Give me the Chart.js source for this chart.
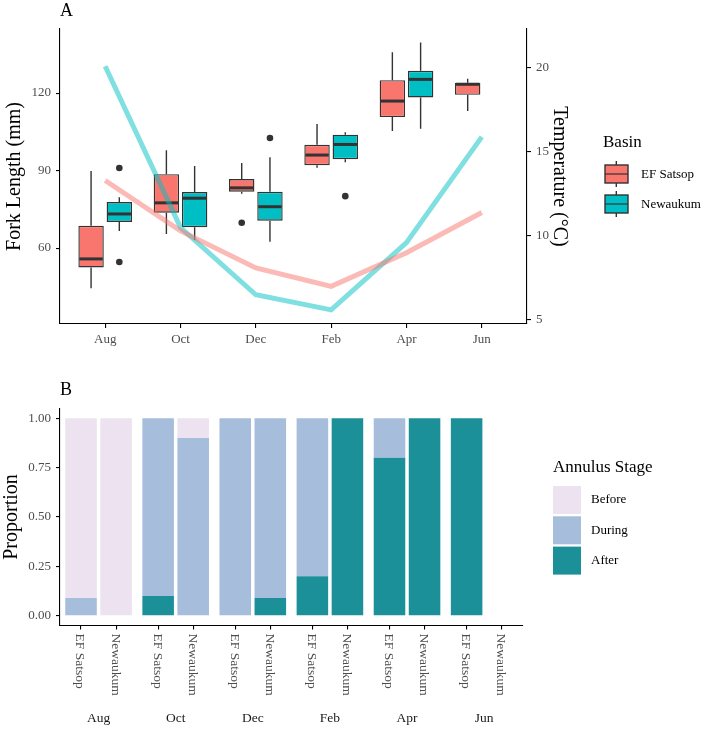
<!DOCTYPE html>
<html>
<head>
<meta charset="utf-8">
<script src="https://cdn.jsdelivr.net/npm/chart.js@4.4.1/dist/chart.umd.min.js"></script>
<style>
  body { margin: 0; background: #fff; }
  #wrap { position: relative; width: 706px; height: 729px; }
  canvas { position: absolute; left: 0; }
  #top { top: 0; }
  #bottom { top: 370px; }
</style>
</head>
<body>
<div id="wrap">
  <canvas id="top" width="706" height="360"></canvas>
  <canvas id="bottom" width="706" height="359"></canvas>
</div>
<script>
// ---- panel A data ----
var months = ['Aug', 'Oct', 'Dec', 'Feb', 'Apr', 'Jun'];
var basins = ['EF Satsop', 'Newaukum'];

// box stats (fork length, mm), one value per month
var efLow = [44.4, 65.4, 81.0, 91.1, 105.3, 113.1];
var efQ1 = [52.5, 73.7, 81.8, 92.1, 110.7, 119.3];
var efMed = [55.8, 77.5, 83.3, 96.0, 116.9, 123.4];
var efQ3 = [68.6, 88.6, 86.7, 100.0, 125.0, 124.0];
var efHigh = [89.8, 97.9, 92.9, 108.0, 135.8, 125.5];

var nwLow = [66.6, 63.1, 62.4, 93.2, 106.2, null];
var nwQ1 = [70.1, 68.1, 70.6, 94.4, 118.3, null];
var nwMed = [73.2, 79.3, 76.0, 100.1, 125.3, null];
var nwQ3 = [77.8, 81.7, 81.8, 103.9, 128.6, null];
var nwHigh = [79.7, 91.8, 95.2, 104.8, 139.6, null];

// outliers
var outMonth = ['Aug', 'Aug', 'Dec', 'Dec', 'Feb'];
var outBasin = ['Newaukum', 'Newaukum', 'EF Satsop', 'Newaukum', 'Newaukum'];
var outValue = [91.0, 54.6, 69.8, 102.6, 80.1];

// mean temperature (°C)
var tempEF = [13.3, 10.3, 8.1, 7.0, 9.0, 11.4];
var tempNW = [20.1, 10.5, 6.5, 5.6, 9.6, 15.9];

var lengthTicks = [60, 90, 120];
var tempTicks = [5, 10, 15, 20];

// ---- panel B data ----
var barMonth = ['Aug', 'Aug', 'Oct', 'Oct', 'Dec', 'Dec', 'Feb', 'Feb', 'Apr', 'Apr', 'Jun', 'Jun'];
var barBasin = ['EF Satsop', 'Newaukum', 'EF Satsop', 'Newaukum', 'EF Satsop', 'Newaukum',
                'EF Satsop', 'Newaukum', 'EF Satsop', 'Newaukum', 'EF Satsop', 'Newaukum'];
var stages = ['Before', 'During', 'After'];
var propBefore = [0.91, 1.00, 0, 0.10, 0, 0, 0, 0, 0, 0, 0, 0];
var propDuring = [0.09, 0, 0.90, 0.90, 1.00, 0.91, 0.80, 0, 0.20, 0, 0, 0];
var propAfter = [0, 0, 0.10, 0, 0, 0.09, 0.20, 1.00, 0.80, 1.00, 1.00, 0];
var propTicks = [0, 0.25, 0.5, 0.75, 1];
var propTickLabels = ['0.00', '0.25', '0.50', '0.75', '1.00'];

Chart.defaults.font.family = "'Liberation Serif', 'DejaVu Serif', serif";
Chart.defaults.color = '#4D4D4D';

var FONT = "'Liberation Serif', serif";
var boxFill = { 'EF Satsop': '#F8766D', 'Newaukum': '#00BFC4' };
var stageFill = { 'Before': '#ECE2F0', 'During': '#A6BDDB', 'After': '#1C9099' };
var catPct = 0.75;

function axisStyle(extra) {
  var base = {
    grid: { drawOnChartArea: false, color: '#000', tickLength: 4, lineWidth: 1.1, offset: false },
    border: { color: '#000', width: 1.1 },
    ticks: { color: '#4D4D4D', font: { size: 13 } }
  };
  return Object.assign(base, extra);
}

function boxData(q1, med, q3, lo, hi) {
  var out = [];
  months.forEach(function (m, i) {
    if (q1[i] == null) return;
    out.push({ x: i + 1, y: [q1[i], q3[i]], med: med[i], lo: lo[i], hi: hi[i] });
  });
  return out;
}

var outliers = outValue.map(function (v, i) {
  var shift = outBasin[i] === basins[0] ? -catPct / 4 : catPct / 4;
  return { x: months.indexOf(outMonth[i]) + 1 + shift, y: v };
});

var whiskers = {
  id: 'whiskers',
  afterDatasetDraw: function (chart, args) {
    var ds = chart.data.datasets[args.index];
    if (!ds.isBox) return;
    var ctx = chart.ctx, ys = chart.scales.y;
    ctx.save();
    ctx.strokeStyle = '#333333';
    args.meta.data.forEach(function (bar, i) {
      var d = ds.data[i];
      var p = bar.getProps(['x', 'y', 'base', 'width'], true);
      var top = Math.min(p.y, p.base), bot = Math.max(p.y, p.base);
      ctx.lineWidth = 1.4;
      ctx.beginPath();
      ctx.moveTo(p.x, top); ctx.lineTo(p.x, ys.getPixelForValue(d.hi));
      ctx.moveTo(p.x, bot); ctx.lineTo(p.x, ys.getPixelForValue(d.lo));
      ctx.stroke();
      var ym = ys.getPixelForValue(d.med);
      ctx.lineWidth = 3;
      ctx.beginPath();
      ctx.moveTo(p.x - p.width / 2 + 1, ym); ctx.lineTo(p.x + p.width / 2 - 1, ym);
      ctx.stroke();
    });
    ctx.restore();
  }
};

var basinLegend = {
  id: 'basinLegend',
  afterDraw: function (chart) {
    var ctx = chart.ctx;
    ctx.save();
    ctx.fillStyle = '#000';
    ctx.textBaseline = 'middle';
    ctx.textAlign = 'left';
    ctx.font = '18px ' + FONT;
    ctx.fillText('A', 60, 11);
    ctx.font = '17px ' + FONT;
    ctx.fillText('Basin', 603, 143);
    ctx.font = '13px ' + FONT;
    basins.forEach(function (b, i) {
      var cy = 174 + i * 30;
      ctx.strokeStyle = '#333333';
      ctx.lineWidth = 1.4;
      ctx.beginPath();
      ctx.moveTo(616.3, cy - 13); ctx.lineTo(616.3, cy + 13);
      ctx.stroke();
      ctx.fillStyle = boxFill[b];
      ctx.fillRect(605, cy - 9, 23, 18);
      ctx.strokeRect(605, cy - 9, 23, 18);
      ctx.lineWidth = 1.2;
      ctx.beginPath();
      ctx.moveTo(605, cy); ctx.lineTo(628, cy);
      ctx.stroke();
      ctx.fillStyle = '#000';
      ctx.fillText(b, 641, cy + 1);
    });
    ctx.restore();
  }
};

new Chart(document.getElementById('top'), {
  type: 'bar',
  data: {
    datasets: [
      { type: 'line', label: 'EF Satsop temp', yAxisID: 'y2', order: 0,
        data: tempEF.map(function (t, i) { return { x: i + 1, y: t }; }),
        borderColor: 'rgba(248,118,109,0.5)', borderWidth: 5, pointRadius: 0, tension: 0 },
      { type: 'line', label: 'Newaukum temp', yAxisID: 'y2', order: 0,
        data: tempNW.map(function (t, i) { return { x: i + 1, y: t }; }),
        borderColor: 'rgba(0,191,196,0.5)', borderWidth: 5, pointRadius: 0, tension: 0 },
      { type: 'scatter', label: 'outliers', order: 1, data: outliers,
        pointRadius: 3.3, backgroundColor: '#333333', borderWidth: 0 },
      { label: basins[0], isBox: true, order: 2,
        data: boxData(efQ1, efMed, efQ3, efLow, efHigh),
        backgroundColor: boxFill[basins[0]], borderColor: '#333333', borderWidth: 1.4,
        borderSkipped: false, categoryPercentage: catPct, barPercentage: 0.9 },
      { label: basins[1], isBox: true, order: 2,
        data: boxData(nwQ1, nwMed, nwQ3, nwLow, nwHigh),
        backgroundColor: boxFill[basins[1]], borderColor: '#333333', borderWidth: 1.4,
        borderSkipped: false, categoryPercentage: catPct, barPercentage: 0.9 }
    ]
  },
  options: {
    responsive: false,
    animation: false,
    devicePixelRatio: 1,
    events: [],
    layout: { padding: { left: 0, right: 134, top: 29, bottom: 6 } },
    plugins: { legend: { display: false }, tooltip: { enabled: false } },
    scales: {
      x: axisStyle({
        type: 'linear', offset: false, min: 0.4, max: 6.6,
        afterBuildTicks: function (s) { s.ticks = months.map(function (m, i) { return { value: i + 1 }; }); },
        ticks: { color: '#4D4D4D', font: { size: 13 }, padding: 4, maxRotation: 0,
                 callback: function (v) { return months[Math.round(v) - 1]; } },
        afterFit: function (s) { s.height = 30; }
      }),
      y: axisStyle({
        type: 'linear', position: 'left', min: 30.6, max: 144.8,
        afterBuildTicks: function (s) { s.ticks = lengthTicks.map(function (v) { return { value: v }; }); },
        ticks: { color: '#4D4D4D', font: { size: 13 }, padding: 5 },
        title: { display: true, text: 'Fork Length (mm)', color: '#000', font: { size: 20 }, padding: { top: 3, bottom: 0 } },
        afterFit: function (s) { s.width = 60; }
      }),
      y2: axisStyle({
        type: 'linear', position: 'right', min: 4.76, max: 22.32,
        afterBuildTicks: function (s) { s.ticks = tempTicks.map(function (v) { return { value: v }; }); },
        ticks: { color: '#4D4D4D', font: { size: 13 }, padding: 5 },
        title: { display: true, text: 'Temperature (°C)', color: '#000', font: { size: 20 }, padding: { top: 1, bottom: 0 } },
        afterFit: function (s) { s.width = 45; }
      })
    }
  },
  plugins: [whiskers, basinLegend]
});

// ---- panel B ----
function barX(k) {
  return 2.2 * months.indexOf(barMonth[k]) + 0.6 + basins.indexOf(barBasin[k]);
}

var stageLegend = {
  id: 'stageLegend',
  afterDraw: function (chart) {
    var ctx = chart.ctx, xs = chart.scales.x, area = chart.chartArea;
    ctx.save();
    ctx.textBaseline = 'middle';
    // rotated basin labels
    ctx.fillStyle = '#4D4D4D';
    ctx.font = '13.5px ' + FONT;
    ctx.textAlign = 'left';
    barMonth.forEach(function (m, k) {
      ctx.save();
      ctx.translate(xs.getPixelForValue(barX(k)), area.bottom + 8);
      ctx.rotate(Math.PI / 2);
      ctx.fillText(barBasin[k], 0, 1);
      ctx.restore();
    });
    // month strip labels
    ctx.fillStyle = '#1A1A1A';
    ctx.textAlign = 'center';
    months.forEach(function (m, p) {
      ctx.fillText(m, xs.getPixelForValue(2.2 * p + 1.1), 348);
    });
    // tag and legend
    ctx.fillStyle = '#000';
    ctx.textAlign = 'left';
    ctx.font = '18px ' + FONT;
    ctx.fillText('B', 60, 20);
    ctx.font = '17px ' + FONT;
    ctx.fillText('Annulus Stage', 553, 98);
    ctx.font = '13px ' + FONT;
    stages.forEach(function (s, i) {
      var y0 = 116 + i * 30.3;
      ctx.fillStyle = stageFill[s];
      ctx.fillRect(553, y0, 28, 28);
      ctx.fillStyle = '#000';
      ctx.fillText(s, 591, y0 + 14);
    });
    ctx.restore();
  }
};

function stageSet(name, values) {
  return {
    label: name,
    data: values.map(function (v, k) { return { x: barX(k), y: v }; }),
    backgroundColor: stageFill[name], borderWidth: 0,
    categoryPercentage: 1, barPercentage: 0.9
  };
}

new Chart(document.getElementById('bottom'), {
  type: 'bar',
  data: {
    datasets: [
      stageSet('After', propAfter),
      stageSet('During', propDuring),
      stageSet('Before', propBefore)
    ]
  },
  options: {
    responsive: false,
    animation: false,
    devicePixelRatio: 1,
    events: [],
    layout: { padding: { left: 0, right: 183.3, top: 38.4, bottom: 3.4 } },
    plugins: { legend: { display: false }, tooltip: { enabled: false } },
    scales: {
      x: axisStyle({
        type: 'linear', stacked: true, offset: false, min: 0, max: 13.2,
        afterBuildTicks: function (s) { s.ticks = barMonth.map(function (m, k) { return { value: barX(k) }; }); },
        ticks: { callback: function () { return ''; } },
        afterFit: function (s) { s.height = 100; }
      }),
      y: axisStyle({
        type: 'linear', stacked: true, min: -0.05, max: 1.05,
        afterBuildTicks: function (s) { s.ticks = propTicks.map(function (v) { return { value: v }; }); },
        ticks: { color: '#4D4D4D', font: { size: 13 }, padding: 5,
                 callback: function (v) { return propTickLabels[propTicks.indexOf(v)]; } },
        title: { display: true, text: 'Proportion', color: '#000', font: { size: 20 }, padding: { top: 0, bottom: 0 } },
        afterFit: function (s) { s.width = 60; }
      })
    }
  },
  plugins: [stageLegend]
});
</script>
</body>
</html>
